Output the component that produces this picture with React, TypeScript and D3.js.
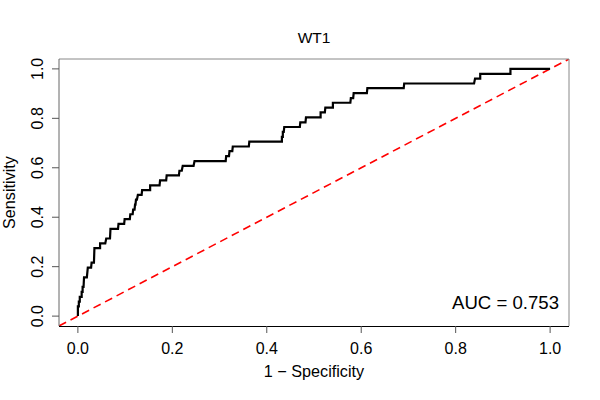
import React from "react";
import * as d3 from "d3";

// ROC curve vertices (1 - specificity, sensitivity)
const fpr: number[] = [
  0, 0, 0.002, 0.002, 0.004, 0.004, 0.008, 0.008, 0.010, 0.010, 0.012, 0.013, 0.019, 0.021, 0.028, 0.029,
  0.034, 0.035, 0.047, 0.047, 0.058, 0.060, 0.068, 0.069, 0.085, 0.086, 0.098, 0.099, 0.110, 0.111,
  0.116, 0.117, 0.120, 0.121, 0.122, 0.123, 0.125, 0.127, 0.135, 0.136, 0.153, 0.153, 0.173, 0.174,
  0.187, 0.188, 0.214, 0.215, 0.220, 0.222, 0.245, 0.247, 0.313, 0.314, 0.320, 0.321, 0.327, 0.328,
  0.362, 0.363, 0.432, 0.432, 0.434, 0.434, 0.436, 0.437, 0.470, 0.471, 0.482, 0.483, 0.514, 0.514,
  0.523, 0.524, 0.540, 0.540, 0.577, 0.578, 0.583, 0.584, 0.612, 0.613, 0.690, 0.691, 0.839, 0.841,
  0.852, 0.852, 0.916, 0.916, 1.0,
];
const tpr: number[] = [
  0, 0.039, 0.039, 0.059, 0.059, 0.078, 0.078, 0.098, 0.098, 0.118, 0.118, 0.157, 0.157, 0.196, 0.196, 0.216,
  0.216, 0.275, 0.275, 0.294, 0.294, 0.314, 0.314, 0.353, 0.353, 0.373, 0.373, 0.392, 0.392, 0.412,
  0.412, 0.431, 0.431, 0.451, 0.451, 0.471, 0.471, 0.490, 0.490, 0.510, 0.510, 0.529, 0.529, 0.549,
  0.549, 0.569, 0.569, 0.588, 0.588, 0.608, 0.608, 0.627, 0.627, 0.647, 0.647, 0.667, 0.667, 0.686,
  0.686, 0.706, 0.706, 0.725, 0.725, 0.745, 0.745, 0.765, 0.765, 0.784, 0.784, 0.804, 0.804, 0.824,
  0.824, 0.843, 0.843, 0.863, 0.863, 0.882, 0.882, 0.902, 0.902, 0.922, 0.922, 0.941, 0.941, 0.961,
  0.961, 0.980, 0.980, 1.0, 1.0,
];
const xTicks: number[] = [0, 0.2, 0.4, 0.6, 0.8, 1.0];
const yTicks: number[] = [0, 0.2, 0.4, 0.6, 0.8, 1.0];
const title = "WT1";
const xLabel = "1 \u2212 Specificity";
const yLabel = "Sensitivity";
const aucText = "AUC = 0.753";

const W = 600;
const H = 400;
const L = 59;
const R = 569;
const T = 59;
const B = 326;
const FONT = "Liberation Sans, Arial, Helvetica, sans-serif";

export default function App() {
  const x = d3.scaleLinear().domain([-0.04, 1.04]).range([L, R]);
  const y = d3.scaleLinear().domain([-0.04, 1.04]).range([B, T]);
  const pts: [number, number][] = fpr.map((f, i) => [f, tpr[i]]);
  const line = d3
    .line<[number, number]>()
    .x((d) => x(d[0]))
    .y((d) => y(d[1]));
  const diag = line([
    [-0.04, -0.04],
    [1.04, 1.04],
  ]) as string;
  const fmt = d3.format(".1f");

  return (
    <svg
      width={W}
      height={H}
      style={{ position: "absolute", left: 0, top: 0, background: "#fff" }}
      fontFamily={FONT}
    >
      <rect x={0} y={0} width={W} height={H} fill="#fff" />
      <defs>
        <clipPath id="plotclip">
          <rect x={L} y={T} width={R - L} height={B - T} />
        </clipPath>
      </defs>
      {/* diagonal reference */}
      <path
        d={diag}
        stroke="#ff0000"
        strokeWidth={1.6}
        strokeDasharray="8,5"
        fill="none"
        clipPath="url(#plotclip)"
      />
      {/* ROC curve */}
      <path
        d={line(pts) as string}
        stroke="#000"
        strokeWidth={2.2}
        fill="none"
        strokeLinejoin="miter"
      />
      {/* box */}
      <line x1={L} x2={R} y1={T} y2={T} stroke="#888" strokeWidth={1} />
      <line x1={R} x2={R} y1={T} y2={B} stroke="#888" strokeWidth={1} />
      <line x1={L} x2={L} y1={T} y2={B} stroke="#666" strokeWidth={1} />
      <line x1={L} x2={R} y1={B + 0.5} y2={B + 0.5} stroke="#000" strokeWidth={1} />
      {/* x axis */}
      {xTicks.map((t) => (
        <g key={"x" + t}>
          <line x1={x(t)} x2={x(t)} y1={B} y2={B + 7} stroke="#555" strokeWidth={1} />
          <text x={x(t)} y={354} textAnchor="middle" fontSize={16} fill="#000">
            {fmt(t)}
          </text>
        </g>
      ))}
      {/* y axis */}
      {yTicks.map((t) => (
        <g key={"y" + t}>
          <line x1={L - 7} x2={L} y1={y(t)} y2={y(t)} stroke="#555" strokeWidth={1} />
          <text
            transform={`translate(${43},${y(t)}) rotate(-90)`}
            textAnchor="middle"
            fontSize={16}
            fill="#000"
          >
            {fmt(t)}
          </text>
        </g>
      ))}
      <text x={(L + R) / 2} y={42.5} textAnchor="middle" fontSize={15.5} fill="#000">
        {title}
      </text>
      <text x={(L + R) / 2} y={376.5} textAnchor="middle" fontSize={16.2} fill="#000">
        {xLabel}
      </text>
      <text
        transform={`translate(${15},${(T + B) / 2}) rotate(-90)`}
        textAnchor="middle"
        fontSize={16.2}
        fill="#000"
      >
        {yLabel}
      </text>
      <text x={559} y={309} textAnchor="end" fontSize={18.6} fill="#000">
        {aucText}
      </text>
    </svg>
  );
}
